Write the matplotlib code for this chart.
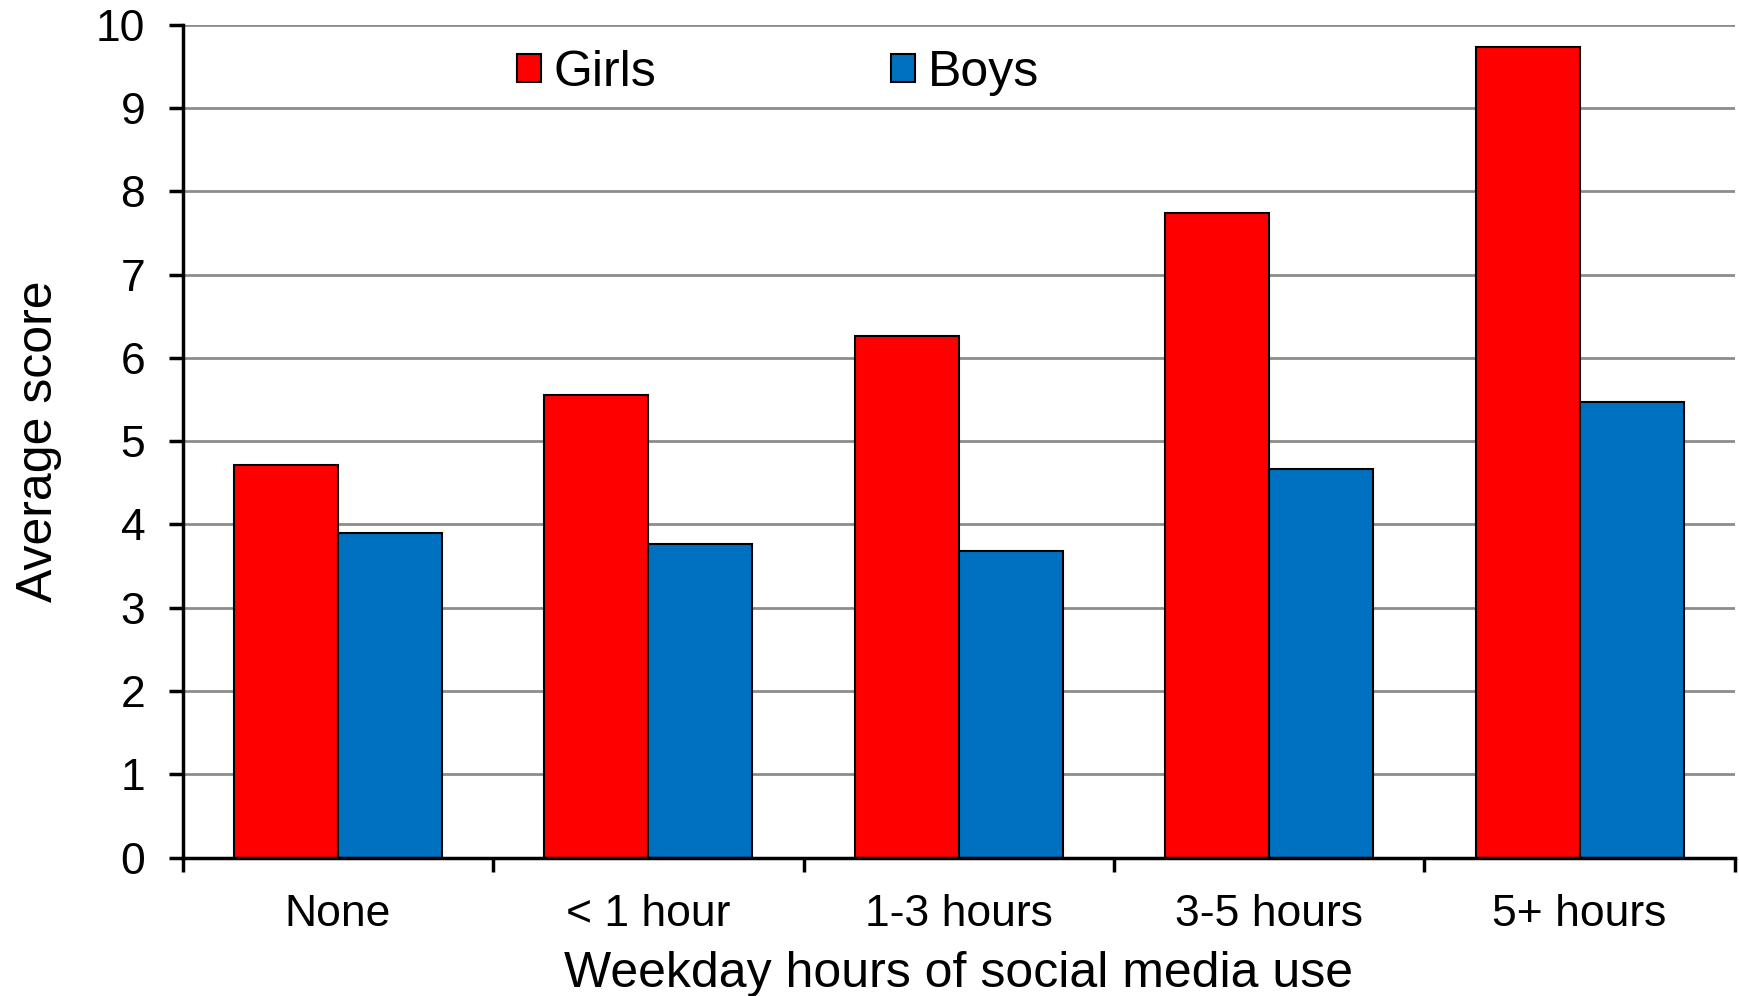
import matplotlib.pyplot as plt
import numpy as np

plt.rcParams['font.family'] = ['Liberation Sans', 'DejaVu Sans']

categories = ['None', '< 1 hour', '1-3 hours', '3-5 hours', '5+ hours']
girls = [4.71, 5.55, 6.26, 7.74, 9.73]
boys = [3.90, 3.76, 3.68, 4.67, 5.47]

fig = plt.figure(figsize=(17.4, 9.96), dpi=100)
ax = fig.add_axes([0.105, 0.139, 0.892, 0.836])

x = np.arange(len(categories))
w = 0.335
ax.bar(x - w / 2, girls, w, color='#FF0000', edgecolor='black', linewidth=1.5, label='Girls', zorder=3)
ax.bar(x + w / 2, boys, w, color='#0070C0', edgecolor='black', linewidth=1.5, label='Boys', zorder=3)

ax.set_xlim(-0.5, len(categories) - 0.5)
ax.set_ylim(0, 10)
ax.set_yticks(range(0, 11))
ax.yaxis.grid(True, color='#8c8c8c', linewidth=2, zorder=0)

# category labels at centres, tick marks between groups
ax.set_xticks(x)
ax.set_xticklabels(categories)
ax.set_xticks(np.arange(-0.5, len(categories)), minor=True)
ax.tick_params(axis='x', which='major', length=0, pad=26, labelsize=32)
ax.tick_params(axis='x', which='minor', length=10, width=2.5, direction='out')
ax.tick_params(axis='y', length=10, width=2.5, pad=17, labelsize=32)

for s in ['top', 'right']:
    ax.spines[s].set_visible(False)
for s in ['left', 'bottom']:
    ax.spines[s].set_linewidth(2.5)
    ax.spines[s].set_zorder(4)

ax.set_xlabel('Weekday hours of social media use', fontsize=36, labelpad=12)
ax.set_ylabel('Average score', fontsize=36, labelpad=24)

fig.legend(loc='center', bbox_to_anchor=(0.447, 0.927), ncol=2, frameon=False,
           fontsize=36, handlelength=0.48, handleheight=0.48, handletextpad=0.25,
           columnspacing=4.7)

fig.savefig('out.png', dpi=100)
